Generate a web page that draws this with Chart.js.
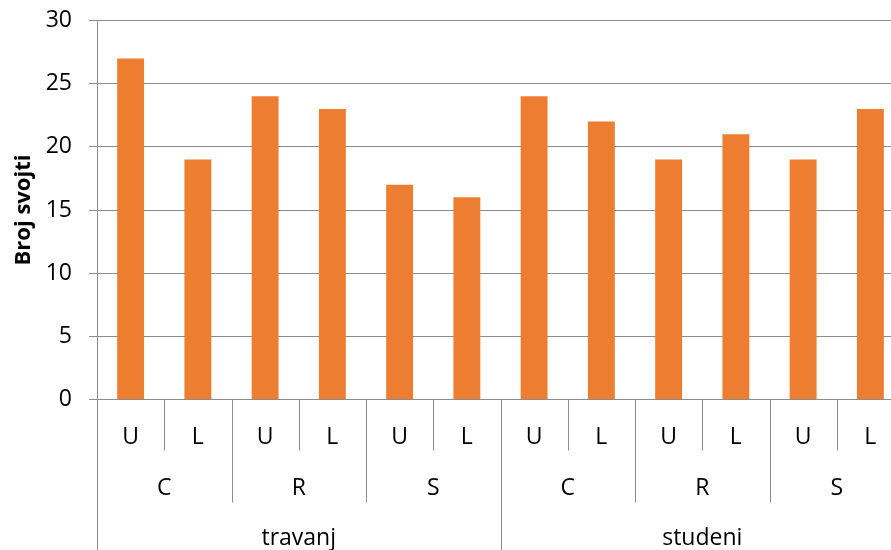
<!DOCTYPE html>
<html>
<head>
<meta charset="utf-8">
<script src="https://cdn.jsdelivr.net/npm/chart.js@4"></script>
<style>
  html, body { margin: 0; padding: 0; overflow: hidden; background: #fff; }
  #wrap { width: 904px; height: 550px; position: relative; }
</style>
</head>
<body>
<div id="wrap"><canvas id="c"></canvas></div>
<script>
// Data
const sides = ['U', 'L', 'U', 'L', 'U', 'L', 'U', 'L', 'U', 'L', 'U', 'L'];
const sites = ['C', 'R', 'S', 'C', 'R', 'S'];
const months = ['travanj', 'studeni'];
const counts = [27, 19, 24, 23, 17, 16, 24, 22, 19, 21, 19, 23];
const yTicks = [0, 5, 10, 15, 20, 25, 30];

const FONT = '"Open Sans", Lato, sans-serif';
const GRID = '#8c8c8c';

const multiLevelAxis = {
  id: 'multiLevelAxis',
  afterDraw(chart) {
    const x = chart.scales.x;
    const ctx = chart.ctx;
    const n = sides.length;
    const w = (x.right - x.left) / n;
    const base = chart.chartArea.bottom;
    const H = chart.height;
    const perSite = n / sites.length;
    const perMonth = n / months.length;
    ctx.save();
    ctx.strokeStyle = GRID;
    ctx.lineWidth = 1;
    for (let k = 0; k <= n; k++) {
      const px = Math.round(x.getPixelForValue(k) - w / 2) + 0.5;
      let end;
      if (k % perMonth === 0) end = H;
      else if (k % perSite === 0) end = base + 103;
      else end = base + 51;
      ctx.beginPath();
      ctx.moveTo(px, base);
      ctx.lineTo(px, end);
      ctx.stroke();
    }
    ctx.fillStyle = '#000';
    ctx.textAlign = 'center';
    ctx.textBaseline = 'alphabetic';
    ctx.font = '23px ' + FONT;
    for (let i = 0; i < n; i++) {
      ctx.fillText(sides[i], x.getPixelForValue(i), base + 44);
    }
    for (let j = 0; j < sites.length; j++) {
      const c = (x.getPixelForValue(j * perSite) + x.getPixelForValue(j * perSite + perSite - 1)) / 2;
      ctx.fillText(sites[j], c, base + 95.5);
    }
    for (let m = 0; m < months.length; m++) {
      const c = (x.getPixelForValue(m * perMonth) + x.getPixelForValue(m * perMonth + perMonth - 1)) / 2;
      ctx.fillText(months[m], c, base + 145.5);
    }
    ctx.restore();
  }
};

new Chart(document.getElementById('c'), {
  type: 'bar',
  data: {
    labels: sides.map((s, i) => s + i),
    datasets: [{
      data: counts,
      backgroundColor: '#ED7D31',
      barPercentage: 0.4,
      categoryPercentage: 1.0
    }]
  },
  options: {
    responsive: true,
    maintainAspectRatio: false,
    animation: false,
    events: [],
    layout: { padding: { left: 0, top: 20.5, right: 0, bottom: 150.5 } },
    plugins: { legend: { display: false }, tooltip: { enabled: false } },
    scales: {
      x: {
        type: 'category',
        display: false,
        offset: true
      },
      y: {
        min: 0,
        max: 30,
        afterFit(scale) {
          scale.width = 97;
          scale.paddingTop = 0;
          scale.paddingBottom = 0;
        },
        afterBuildTicks(scale) { scale.ticks = yTicks.map(v => ({ value: v })); },
        ticks: {
          padding: 17,
          color: '#000',
          font: { family: FONT, size: 23 }
        },
        grid: { color: GRID, tickLength: 8, lineWidth: 1 },
        border: { display: true, color: GRID },
        title: {
          display: true,
          text: 'Broj svojti',
          color: '#000',
          font: { family: FONT, size: 22, weight: 'bold' },
          padding: { top: 11, bottom: 0 }
        }
      }
    }
  },
  plugins: [multiLevelAxis]
});
</script>
</body>
</html>
